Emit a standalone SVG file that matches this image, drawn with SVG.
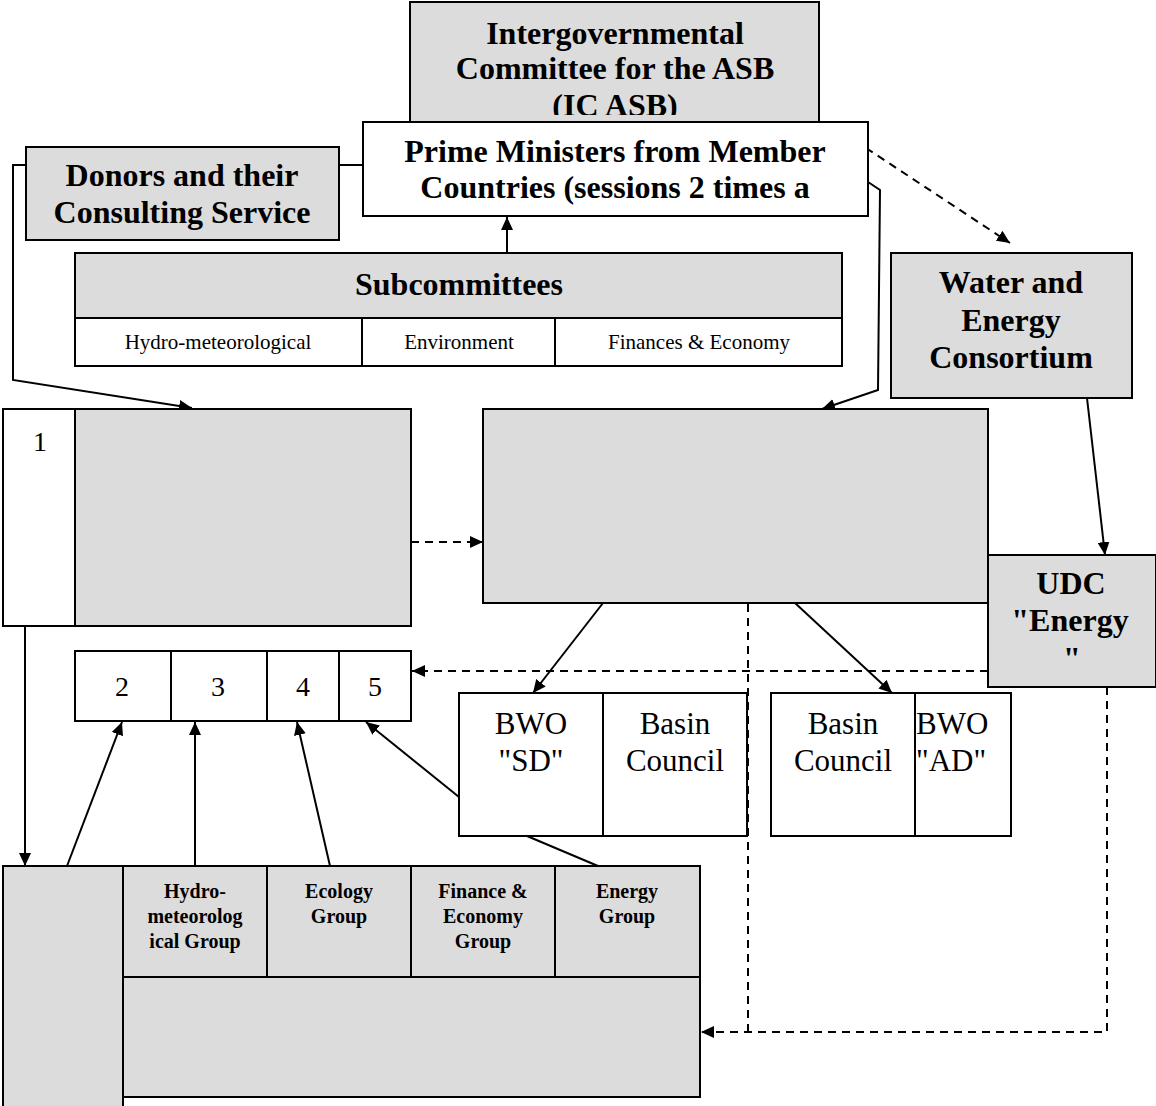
<svg xmlns="http://www.w3.org/2000/svg" width="1156" height="1106" viewBox="0 0 1156 1106">
<style>
.g{fill:#dcdcdc;stroke:#000;stroke-width:2}
.w{fill:#fff;stroke:#000;stroke-width:2}
.ln{fill:none;stroke:#000;stroke-width:2}
.d{fill:none;stroke:#000;stroke-width:2;stroke-dasharray:8 6}
.h{font-family:"Liberation Serif","Times New Roman",serif;font-weight:bold;font-size:32px;text-anchor:middle}
.r{font-family:"Liberation Serif","Times New Roman",serif;font-size:31px;text-anchor:middle}
.n{font-family:"Liberation Serif","Times New Roman",serif;font-size:28px;text-anchor:middle}
.s{font-family:"Liberation Serif","Times New Roman",serif;font-size:21px;text-anchor:middle}
.sb{font-family:"Liberation Serif","Times New Roman",serif;font-weight:bold;font-size:20px;text-anchor:middle}
</style>
<defs>
<marker id="a" markerUnits="userSpaceOnUse" markerWidth="14" markerHeight="12" refX="13" refY="6" orient="auto">
<path d="M0,0 L13,6 L0,12 z" fill="#000"/>
</marker>
<clipPath id="icclip"><rect x="410" y="2" width="409" height="113"/></clipPath>
</defs>
<g id="connectors">
<polyline class="ln" points="26,165 13,165 13,380 192,408" marker-end="url(#a)"/>
<line class="ln" x1="339" y1="165" x2="363" y2="165"/>
<line class="ln" x1="507" y1="253" x2="507" y2="217" marker-end="url(#a)"/>
<polyline class="ln" points="868,182 880,190 878,390 822,409" marker-end="url(#a)"/>
<line class="d" x1="866" y1="148" x2="1010" y2="243" marker-end="url(#a)"/>
<line class="ln" x1="1087" y1="398" x2="1105" y2="555" marker-end="url(#a)"/>
<line class="d" x1="411" y1="542" x2="483" y2="542" marker-end="url(#a)"/>
<line class="ln" x1="603" y1="603" x2="533" y2="693" marker-end="url(#a)"/>
<line class="ln" x1="795" y1="603" x2="892" y2="693" marker-end="url(#a)"/>
<line class="d" x1="988" y1="671" x2="412" y2="671" marker-end="url(#a)"/>
<line class="d" x1="748" y1="604" x2="748" y2="1032"/>
<polyline class="d" points="1107,687 1107,1032 701,1032" marker-end="url(#a)"/>
<line class="ln" x1="25" y1="626" x2="25" y2="866" marker-end="url(#a)"/>
<line class="ln" x1="67" y1="866" x2="122" y2="722" marker-end="url(#a)"/>
<line class="ln" x1="195" y1="866" x2="195" y2="722" marker-end="url(#a)"/>
<line class="ln" x1="330" y1="866" x2="297" y2="722" marker-end="url(#a)"/>
<line class="ln" x1="459" y1="797" x2="366" y2="722" marker-end="url(#a)"/>
<line class="ln" x1="527" y1="836" x2="598" y2="866"/>
</g>
<g id="ic-asb">
<rect class="g" x="410" y="2" width="409" height="120"/>
<g clip-path="url(#icclip)">
<text class="h" x="615" y="44">Intergovernmental</text>
<text class="h" x="615" y="79">Committee for the ASB</text>
<text class="h" x="615" y="116">(IC ASB)</text>
</g>
</g>
<g id="prime-ministers">
<rect class="w" x="363" y="122" width="505" height="94"/>
<text class="h" x="615" y="162">Prime Ministers from Member</text>
<text class="h" x="615" y="198">Countries (sessions 2 times a</text>
</g>
<g id="donors">
<rect class="g" x="26" y="147" width="313" height="93"/>
<text class="h" x="182" y="186">Donors and their</text>
<text class="h" x="182" y="223">Consulting Service</text>
</g>
<g id="subcommittees">
<rect class="g" x="75" y="253" width="767" height="65"/>
<text class="h" x="459" y="295">Subcommittees</text>
<rect class="w" x="75" y="318" width="287" height="48"/>
<rect class="w" x="362" y="318" width="193" height="48"/>
<rect class="w" x="555" y="318" width="287" height="48"/>
<text class="s" x="218" y="349">Hydro-meteorological</text>
<text class="s" x="459" y="349">Environment</text>
<text class="s" x="699" y="349">Finances &amp; Economy</text>
</g>
<g id="water-energy-consortium">
<rect class="g" x="891" y="253" width="241" height="145"/>
<text class="h" x="1011" y="293">Water and</text>
<text class="h" x="1011" y="331">Energy</text>
<text class="h" x="1011" y="368">Consortium</text>
</g>
<g id="left-box">
<rect class="w" x="3" y="409" width="72" height="217"/>
<rect class="g" x="75" y="409" width="336" height="217"/>
<text class="n" x="40" y="451">1</text>
</g>
<g id="right-box">
<rect class="g" x="483" y="409" width="505" height="194"/>
</g>
<g id="udc-energy">
<rect class="g" x="988" y="555" width="168" height="132"/>
<text class="h" x="1071" y="594">UDC</text>
<text class="h" x="1070" y="631">"Energy</text>
<text class="h" x="1072" y="669">"</text>
</g>
<g id="boxes-2-5">
<rect class="w" x="75" y="651" width="96" height="70"/>
<rect class="w" x="171" y="651" width="96" height="70"/>
<rect class="w" x="267" y="651" width="72" height="70"/>
<rect class="w" x="339" y="651" width="72" height="70"/>
<text class="n" x="122" y="696">2</text>
<text class="n" x="218" y="696">3</text>
<text class="n" x="303" y="696">4</text>
<text class="n" x="375" y="696">5</text>
</g>
<g id="bwo-sd">
<rect class="w" x="459" y="693" width="144" height="143"/>
<rect class="w" x="603" y="693" width="144" height="143"/>
<text class="r" x="531" y="734">BWO</text>
<text class="r" x="531" y="771">"SD"</text>
<text class="r" x="675" y="734">Basin</text>
<text class="r" x="675" y="771">Council</text>
</g>
<g id="bwo-ad">
<rect class="w" x="771" y="693" width="144" height="143"/>
<rect class="w" x="915" y="693" width="96" height="143"/>
<text class="r" x="843" y="734">Basin</text>
<text class="r" x="843" y="771">Council</text>
<text class="r" x="916" y="734" style="text-anchor:start">BWO</text>
<text class="r" x="916" y="771" style="text-anchor:start">"AD"</text>
</g>
<g id="working-groups">
<rect class="g" x="3" y="866" width="120" height="242"/>
<rect class="g" x="123" y="866" width="144" height="111"/>
<rect class="g" x="267" y="866" width="144" height="111"/>
<rect class="g" x="411" y="866" width="144" height="111"/>
<rect class="g" x="555" y="866" width="145" height="111"/>
<rect class="g" x="123" y="977" width="577" height="120"/>
<text class="sb" x="195" y="898">Hydro-</text>
<text class="sb" x="195" y="923">meteorolog</text>
<text class="sb" x="195" y="948">ical Group</text>
<text class="sb" x="339" y="898">Ecology</text>
<text class="sb" x="339" y="923">Group</text>
<text class="sb" x="483" y="898">Finance &amp;</text>
<text class="sb" x="483" y="923">Economy</text>
<text class="sb" x="483" y="948">Group</text>
<text class="sb" x="627" y="898">Energy</text>
<text class="sb" x="627" y="923">Group</text>
</g>
</svg>
